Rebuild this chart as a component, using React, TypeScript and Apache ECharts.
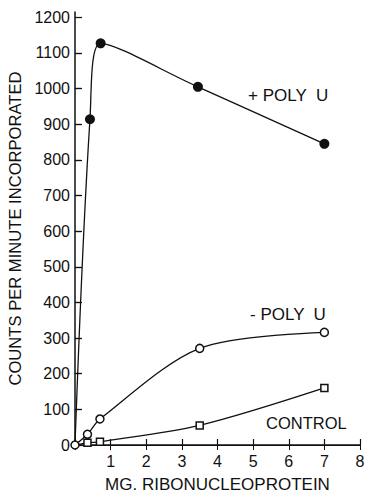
import React, { useEffect, useRef } from "react";
import * as echarts from "echarts";

const xTickLabels = ["", "1", "2", "3", "4", "5", "6", "7", "8"];
const yTickValues = [0, 100, 200, 300, 400, 500, 600, 700, 800, 900, 1000, 1100, 1200];
const rightTickValues = [100, 200, 300, 400, 500, 600, 700, 800, 900, 1000, 1100];

const plusPolyX = [0, 0.42, 0.72, 3.45, 7];
const plusPolyY = [0, 914, 1127, 1005, 845];
const minusPolyX = [0, 0.35, 0.7, 3.5, 7];
const minusPolyY = [0, 30, 73, 271, 316];
const controlX = [0, 0.35, 0.7, 3.5, 7];
const controlY = [0, 6, 9, 55, 160];

const FONT = "Liberation Sans";
const INK = "#111";

function items(xs: number[], ys: number[], hideFirst: boolean) {
  return xs.map((x, i) =>
    i === 0 && hideFirst ? { value: [x, ys[i]], symbol: "none" } : { value: [x, ys[i]] }
  );
}

export default function App() {
  const ref = useRef<HTMLDivElement>(null);
  useEffect(() => {
    if (!ref.current) return;
    const chart = echarts.init(ref.current, null, { renderer: "svg" });
    chart.setOption({
      animation: false,
      backgroundColor: "#fff",
      grid: { left: 75, right: 7, top: 12, bottom: 48, containLabel: false, outerBoundsMode: "none" },
      xAxis: [
        {
          type: "value",
          min: 0,
          max: 8,
          interval: 1,
          position: "bottom",
          axisLine: { show: true, lineStyle: { color: INK, width: 1.5 } },
          axisTick: { show: true, inside: true, length: 6, lineStyle: { color: INK, width: 1.2 } },
          axisLabel: {
            formatter: (v: number) => xTickLabels[Math.round(v)] ?? "",
            fontFamily: FONT,
            fontSize: 16,
            color: INK,
            margin: 8,
          },
          splitLine: { show: false },
          name: "MG. RIBONUCLEOPROTEIN",
          nameLocation: "middle",
          nameGap: 31,
          nameTextStyle: { fontFamily: FONT, fontSize: 17, color: INK },
        },
        {
          type: "value",
          min: 0,
          max: 8,
          interval: 1,
          position: "top",
          axisLine: { show: true, lineStyle: { color: INK, width: 1 } },
          axisTick: { show: true, inside: true, length: 5, lineStyle: { color: INK, width: 1 } },
          axisLabel: { show: false },
          splitLine: { show: false },
        },
      ],
      yAxis: [
        {
          type: "value",
          min: 0,
          max: 1215,
          position: "left",
          axisLine: { show: true, lineStyle: { color: INK, width: 1.5 } },
          axisTick: {
            show: true,
            inside: true,
            length: 7,
            customValues: yTickValues,
            lineStyle: { color: INK, width: 1.2 },
          },
          axisLabel: {
            customValues: yTickValues,
            formatter: (v: number) => String(v),
            fontFamily: FONT,
            fontSize: 16,
            color: INK,
            margin: 5,
          },
          splitLine: { show: false },
          name: "COUNTS PER MINUTE INCORPORATED",
          nameLocation: "middle",
          nameGap: 44,
          nameTextStyle: { fontFamily: FONT, fontSize: 16.6, color: INK },
        },
        {
          type: "value",
          min: 0,
          max: 1215,
          position: "right",
          axisLine: { show: false },
          axisTick: {
            show: true,
            inside: false,
            length: 6,
            customValues: rightTickValues,
            lineStyle: { color: INK, width: 1.2 },
          },
          axisLabel: { show: false },
          splitLine: { show: false },
        },
      ],
      series: [
        {
          name: "+ POLY U",
          type: "line",
          data: items(plusPolyX, plusPolyY, true),
          smooth: 0.35,
          symbol: "circle",
          symbolSize: 10,
          itemStyle: { color: INK },
          lineStyle: { color: INK, width: 1.3 },
          z: 3,
        },
        {
          name: "- POLY U",
          type: "line",
          data: items(minusPolyX, minusPolyY, false),
          smooth: 0.3,
          symbol: "circle",
          symbolSize: 8,
          itemStyle: { color: "#fff", borderColor: INK, borderWidth: 1.5 },
          lineStyle: { color: INK, width: 1.3 },
          z: 4,
        },
        {
          name: "CONTROL",
          type: "line",
          data: items(controlX, controlY, true),
          smooth: 0.3,
          symbol: "rect",
          symbolSize: 7,
          itemStyle: { color: "#fff", borderColor: INK, borderWidth: 1.5 },
          lineStyle: { color: INK, width: 1.3 },
          z: 3,
        },
      ],
      graphic: [
        {
          type: "text",
          left: 248,
          top: 87,
          style: { text: "+ POLY  U", font: `17px "${FONT}"`, fill: INK },
        },
        {
          type: "text",
          left: 250,
          top: 306,
          style: { text: "- POLY  U", font: `17px "${FONT}"`, fill: INK },
        },
        {
          type: "text",
          left: 266,
          top: 414,
          style: { text: "CONTROL", font: `16.5px "${FONT}"`, fill: INK },
        },
      ],
    });
    return () => chart.dispose();
  }, []);
  return (
    <div
      ref={ref}
      style={{ position: "absolute", left: 0, top: 0, width: 367, height: 493 }}
    />
  );
}
